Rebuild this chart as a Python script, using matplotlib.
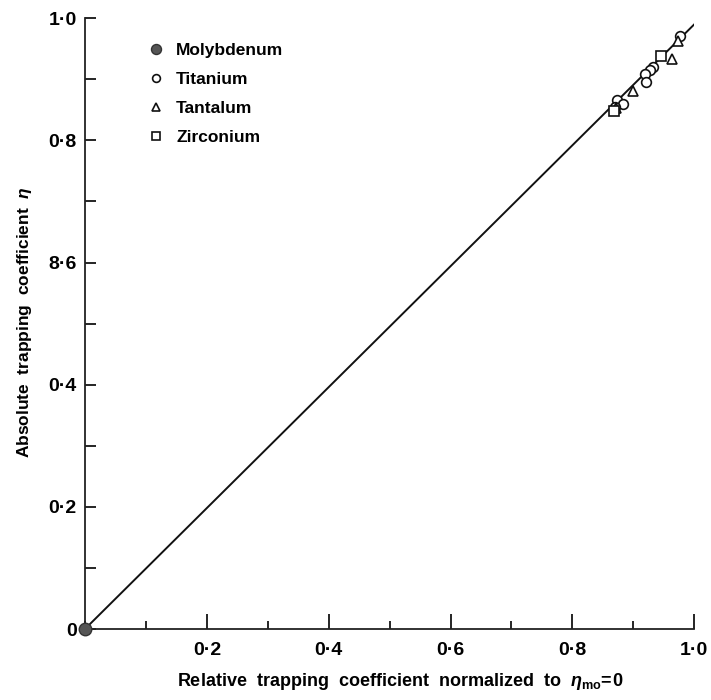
import numpy as np
import matplotlib.pyplot as plt
from matplotlib.ticker import MultipleLocator

plt.rcParams['font.family'] = ['Liberation Sans', 'DejaVu Sans']
plt.rcParams['font.weight'] = 'bold'
plt.rcParams['mathtext.fontset'] = 'custom'
plt.rcParams['mathtext.rm'] = 'Liberation Sans:bold'
plt.rcParams['mathtext.it'] = 'Liberation Sans:italic:bold'

# data
moly_x = [0.0]
moly_y = [0.0]
ti_x = [0.976, 0.933, 0.927, 0.919, 0.920, 0.873, 0.883, 0.870]
ti_y = [0.971, 0.920, 0.915, 0.908, 0.896, 0.866, 0.860, 0.854]
ta_x = [0.973, 0.964, 0.900, 0.872]
ta_y = [0.963, 0.934, 0.881, 0.853]
zr_x = [0.946, 0.868]
zr_y = [0.938, 0.848]
fit_x = [0.0, 1.0]
fit_y = [0.0, 0.99]

xticks = [0.2, 0.4, 0.6, 0.8, 1.0]
xticklabels = ['0·2', '0·4', '0·6', '0·8', '1·0']
yticks = [0.0, 0.2, 0.4, 0.6, 0.8, 1.0]
yticklabels = ['0', '0·2', '0·4', '8·6', '0·8', '1·0']

fig = plt.figure(figsize=(7.11, 7.0), dpi=100)
ax = fig.add_axes([0.1195, 0.1014, 0.857, 0.8726])

ax.plot(fit_x, fit_y, color='#111111', lw=1.4, zorder=2)
ms = 7
ax.plot(moly_x, moly_y, 'o', color='#555555', mec='#333333', ms=9, clip_on=False, zorder=4,
        label='Molybdenum')
ax.plot(ti_x, ti_y, 'o', mfc='white', mec='#111111', mew=1.2, ms=ms, ls='none', label='Titanium', zorder=3)
ax.plot(ta_x, ta_y, '^', mfc='white', mec='#111111', mew=1.2, ms=ms, ls='none', label='Tantalum', zorder=3)
ax.plot(zr_x, zr_y, 's', mfc='white', mec='#111111', mew=1.2, ms=ms, ls='none', label='Zirconium', zorder=3)

ax.set_xlim(0, 1.0)
ax.set_ylim(0, 1.0)
for s in ['top', 'right']:
    ax.spines[s].set_visible(False)
for s in ['left', 'bottom']:
    ax.spines[s].set_color('#222222')
    ax.spines[s].set_linewidth(1.3)

ax.set_xticks(xticks)
ax.set_xticklabels(xticklabels, fontsize=14)
ax.set_yticks(yticks)
ax.set_yticklabels(yticklabels, fontsize=14)
ax.xaxis.set_minor_locator(MultipleLocator(0.1))
ax.yaxis.set_minor_locator(MultipleLocator(0.1))
ax.tick_params(axis='x', which='major', direction='in', length=11, width=1.2, pad=9)
ax.tick_params(axis='x', which='minor', direction='in', length=6, width=1.2)
ax.tick_params(axis='y', which='both', direction='in', length=8, width=1.2, pad=6)

# axis titles placed as in the scanned figure
fig.text(400 / 711, 1 - 681 / 700,
         r'Relative  trapping  coefficient  normalized  to  $\eta_{\mathrm{mo}}\!=\!0$',
         fontsize=13, fontweight='bold', ha='center', va='center')
fig.text(25 / 711, 1 - 322 / 700, r'Absolute  trapping  coefficient  $\eta$',
         fontsize=12.5, fontweight='bold', ha='center', va='center', rotation=90)

leg = ax.legend(loc='upper left', bbox_to_anchor=(0.07, 0.985), frameon=False, fontsize=12.5,
                handletextpad=0.4, labelspacing=0.8, markerscale=0.8, handlelength=1.5)

fig.savefig('out.png', dpi=100)
